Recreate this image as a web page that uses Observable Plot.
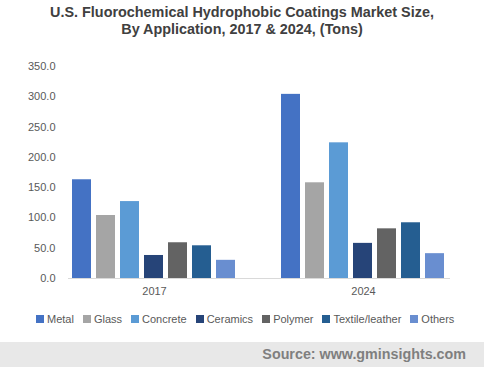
<!DOCTYPE html>
<html><head><meta charset="utf-8">
<script src="https://cdn.jsdelivr.net/npm/d3@7"></script>
<script src="https://cdn.jsdelivr.net/npm/@observablehq/plot@0.6"></script>
<style>
body{margin:0;background:#fff;font-family:"Liberation Sans",Arial,sans-serif;}
#wrap{position:relative;width:484px;height:367px;overflow:hidden;background:#fff;}
#title{position:absolute;top:4px;left:0;width:484px;text-align:center;font-weight:bold;font-size:14.4px;line-height:17px;color:#404040;}
#chart{position:absolute;top:50px;left:0;}
#legend{position:absolute;top:313px;left:36px;display:flex;font-size:11px;color:#595959;white-space:nowrap;}
#legend .it{display:flex;align-items:center;margin-right:9px;}
#legend .sw{width:8px;height:8px;margin-right:3px;}
#footer{position:absolute;top:342px;left:0;width:484px;height:25px;background:#e8e8e8;}
#footer span{position:absolute;right:18px;top:4px;font-weight:bold;font-size:14.3px;color:#7f7f7f;}
</style></head>
<body><div id="wrap">
<div id="title">U.S. Fluorochemical Hydrophobic Coatings Market Size,<br>By Application, 2017 &amp; 2024, (Tons)</div>
<div id="chart"></div>
<div id="legend"></div>
<div id="footer"><span>Source: www.gminsights.com</span></div>
</div>
<script>
const years = ["2017", "2024"];
const categories = ["Metal", "Glass", "Concrete", "Ceramics", "Polymer", "Textile/leather", "Others"];
const values2017 = [163, 104, 127, 38, 59, 54, 30];
const values2024 = [304, 158, 224, 58, 82, 92, 41];
const colors = ["#4472c4", "#a5a5a5", "#5b9bd5", "#264478", "#636363", "#255e91", "#698ed0"];
const yTicks = [0, 50, 100, 150, 200, 250, 300, 350];

const data = [];
categories.forEach((c, i) => {
  data.push({year: years[0], cat: c, value: values2017[i]});
  data.push({year: years[1], cat: c, value: values2024[i]});
});

const chart = Plot.plot({
  width: 484,
  height: 260,
  marginLeft: 49,
  marginRight: 16,
  marginTop: 16,
  marginBottom: 32,
  style: {fontFamily: "Liberation Sans, Arial, sans-serif", fontSize: "11px", color: "#595959", background: "transparent"},
  fx: {domain: years, axis: "bottom", paddingInner: 0.175, paddingOuter: 0.0885, tickSize: 0, tickPadding: 9, label: null},
  x: {domain: categories, axis: null, paddingInner: 0.2, paddingOuter: 0.1},
  y: {domain: [0, 350], ticks: yTicks, tickFormat: d => d.toFixed(1), tickSize: 0, tickPadding: 13, label: null},
  color: {domain: categories, range: colors},
  marks: [
    Plot.barY(data, {fx: "year", x: "cat", y: "value", fill: "cat"}),
    Plot.frame({anchor: "bottom", stroke: "#d9d9d9", strokeWidth: 1, facet: "super"})
  ]
});
document.getElementById("chart").appendChild(chart);

const leg = document.getElementById("legend");
categories.forEach((c, i) => {
  const it = document.createElement("div"); it.className = "it";
  const sw = document.createElement("div"); sw.className = "sw"; sw.style.background = colors[i];
  const t = document.createElement("span"); t.textContent = c;
  it.appendChild(sw); it.appendChild(t); leg.appendChild(it);
});
</script>
</body></html>
